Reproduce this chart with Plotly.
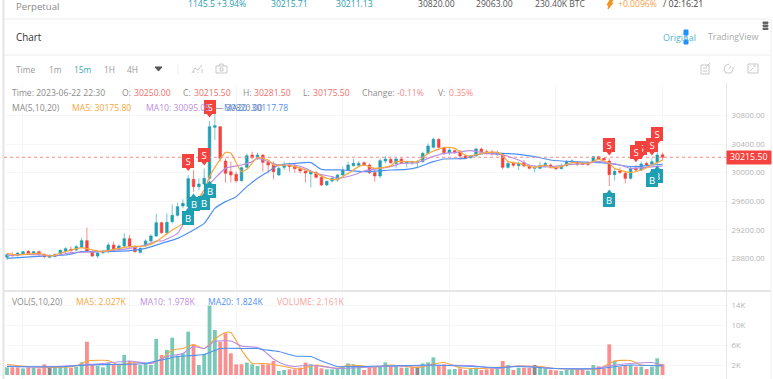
import plotly.graph_objects as go

W, H = 773, 379

opens = [28814,28852,28842,28866,28898,28870,28894,28856,28814,28824,
28861,28898,28926,28917,28954,29048,28889,28833,28880,28898,
28987,28926,28973,29076,28964,28884,28978,29043,29113,29300,
29160,29314,29402,29533,29524,29906,29804,29841,29920,30634,
30644,30163,30014,29976,29888,30074,30247,30210,30247,30144,
30107,29967,30074,30107,30093,30056,30023,29981,30000,29934,
29827,29883,29897,29967,30037,30098,30102,30140,30107,30000,
29953,30163,30186,30130,30191,30135,30140,30140,30154,30270,
30354,30466,30345,30280,30308,30289,30233,30210,30233,30331,
30294,30289,30252,30252,30074,30130,30098,30140,30093,30060,
30060,30098,30107,30074,30056,30098,30149,30144,30130,30130,
30154,30224,30200,30163,29972,30023,29990,29920,30060,30037,
30130,30121,30144,30250]
highs = [28870,28884,28884,28903,28917,28903,28912,28870,28852,28866,
28926,28959,28964,28987,29090,29230,28908,28894,28917,29020,
29034,28992,29150,29127,28987,28954,29066,29136,29421,29314,
29430,29556,29580,29626,29967,30037,29920,30060,30723,30820,
30653,30200,30154,30014,30084,30270,30294,30280,30256,30177,
30154,30107,30154,30140,30130,30084,30023,30037,30023,29967,
29888,29944,29981,30084,30154,30191,30163,30154,30130,30037,
30200,30233,30224,30214,30200,30168,30168,30177,30294,30410,
30494,30480,30364,30340,30326,30317,30247,30247,30350,30350,
30326,30317,30308,30270,30144,30154,30154,30177,30107,30107,
30154,30154,30130,30093,30130,30177,30186,30163,30144,30154,
30233,30233,30210,30200,30051,30074,30014,30084,30107,30154,
30154,30200,30294,30281.5]
lows = [28777,28824,28824,28852,28852,28861,28824,28800,28805,28819,
28852,28880,28880,28898,28940,28889,28819,28800,28861,28870,
28917,28898,28954,28940,28880,28870,28964,29029,29104,29141,
29127,29290,29384,29500,29514,29734,29757,29827,29897,30457,
30154,29860,29860,29860,29874,30060,30186,30177,30014,29990,
29906,29958,30037,30014,30000,29990,29860,29794,29920,29813,
29813,29860,29874,29953,30023,30084,30084,30093,29981,29874,
29920,30130,30121,30060,30121,30074,30107,30060,30140,30261,
30340,30340,30247,30247,30261,30177,30186,30196,30224,30270,
30247,30238,30233,30046,30056,30074,30037,30074,30046,30009,
30046,30074,30056,30037,30046,30084,30130,30093,30107,30093,
30140,30177,30168,29813,29888,29981,29850,29906,30014,30023,
30084,30107,30121,30175.5]
closes = [28852,28838,28875,28894,28870,28894,28856,28824,28838,28856,
28912,28936,28912,28964,29048,28903,28833,28875,28903,28987,
28931,28973,29076,28964,28894,28940,29043,29113,29300,29160,
29304,29402,29524,29570,29916,29804,29841,29920,30644,30658,
30200,29990,29967,29888,30070,30238,30210,30247,30144,30107,
30014,30060,30107,30084,30056,30023,29995,30009,29934,29827,
29878,29920,29967,30037,30107,30130,30130,30107,30000,29953,
30168,30191,30140,30191,30140,30154,30154,30154,30270,30373,
30466,30354,30280,30317,30280,30233,30200,30233,30331,30294,
30275,30261,30280,30074,30130,30102,30130,30093,30060,30074,
30098,30130,30074,30056,30093,30154,30163,30116,30116,30116,
30224,30191,30177,29972,30018,30004,29920,30060,30037,30121,
30107,30154,30247,30215.5]

volumes = [1530,1530,1530,1330,1530,1470,1330,2130,1470,1470,
1800,1600,1470,1600,2530,6670,2000,1800,1530,2470,
2000,2130,4000,2800,2330,2000,2330,2000,7200,4000,
5000,7470,3870,4330,8670,6130,2000,4200,13870,9000,
6670,8330,4330,2130,2130,2470,2130,1800,2130,2130,
2800,800,1000,1130,1130,1470,2470,2130,2000,1330,
1130,1130,1470,1800,2330,2130,2000,1000,1530,1530,
1670,2530,1800,1800,1470,1470,1670,1670,2330,2530,
3530,2000,2130,1130,1200,1330,1000,1200,1470,1000,
1130,1330,1330,2800,2000,1000,1470,1470,1470,2000,
1470,1330,1070,930,800,1070,1070,1070,1070,870,
2000,1730,1330,6130,2870,1600,2000,2000,1670,1670,
1200,1670,3330,2161]
volume_sides = ("trrtrtrrgt" "ttrttrrttt" "rttrrttttr" "tttttrtttt" "rrrrrtttrr"
                "rttrrrrtrr" "tttttttrrr" "ttrtrtrgtt" "trrttrrttr" "rrtrtrtrrg"
                "ttrrtttrrt" "trrrtrrtrt" "rttr")

ma5_i = [0,2,6,8,11,14,15,18,20,23,26,28,31,33,35,37,38,40,41,42,44,45,47,49,50,52,54,56,58,60,62,64,66,67,69,72,73,75,77,79,82,84,86,87,89,92,93,94,96,99,101,102,104,106,109,111,113,114,117,119,121,123]
ma5_v = [28870,28847,28870,28833,28894,28950,28936,28894,28926,28964,28973,29034,29197,29290,29547,29757,29944,30186,30284,30270,30014,30046,30210,30177,30107,30107,30084,30037,29990,29920,29906,29990,30084,30107,30060,30095,30154,30154,30154,30270,30350,30340,30247,30233,30270,30284,30247,30154,30130,30074,30107,30074,30084,30140,30130,30186,30130,30060,30004,30037,30107,30175.8]
ma10_i = [0,4,9,12,17,23,26,28,29,32,33,35,37,39,41,44,46,47,49,51,54,56,58,61,62,65,67,72,74,77,79,82,84,87,90,93,96,98,100,102,106,109,111,115,117,120,123]
ma10_v = [28838,28856,28838,28880,28894,28940,28987,29043,29043,29150,29267,29477,29757,29920,30060,30107,30154,30200,30154,30107,30107,30060,29990,29944,29920,29967,30023,30084,30130,30140,30200,30270,30280,30308,30270,30247,30177,30107,30084,30084,30116,30130,30154,30107,30060,30074,30095.05]
ma20_i = [0,5,11,14,17,23,26,29,32,35,37,39,41,43,45,47,49,51,54,57,59,63,67,72,75,77,80,82,86,88,90,93,96,99,102,106,110,113,116,118,121,123]
ma20_v = [28800,28824,28847,28894,28894,28908,28940,29010,29080,29197,29290,29500,29594,29664,29804,29920,30014,30107,30130,30140,30046,30037,30014,30037,30046,30074,30154,30191,30200,30247,30270,30270,30256,30224,30177,30154,30144,30130,30093,30084,30107,30117.78]

vma5_i = [0,4,9,13,15,19,21,24,27,29,31,33,35,37,39,41,42,44,46,48,50,52,55,58,62,64,69,72,77,80,82,85,89,93,96,100,103,109,111,113,114,117,119,121,123]
vma5_v = [2100,1700,1500,1800,2800,2900,2000,2500,2300,3200,5000,5300,6100,5300,7200,8500,8500,5000,2300,2300,2100,1700,1200,2000,1300,2000,1600,2000,1500,2200,2500,1500,1300,1600,1800,1700,1300,1200,1200,2300,2800,2900,2000,1900,2027]
vma10_i = [0,6,14,18,23,27,30,33,35,37,39,42,44,47,48,50,52,54,57,62,71,87,92,96,103,110,114,117,121,123]
vma10_v = [1800,1600,2000,2300,2800,2300,3700,4300,5700,5300,6700,6800,5800,5500,5000,3200,2100,1700,2000,1300,1700,1900,1300,1800,1300,1300,2000,2300,2500,1978]
vma20_i = [0,10,15,20,26,29,32,37,40,44,47,48,51,54,57,59,62,66,80,92,96,103,111,115,117,123]
vma20_v = [1700,1650,2000,2100,2300,3000,3700,4100,5300,5300,5300,5100,4700,3800,3700,2800,1700,1700,2000,1500,1700,1300,1300,1800,2000,1824]

sell_i = [34,37,38,113,119,118,121,122]
sell_p = [30170,30247,30919,30387,30341,30293,30387,30537]
buy_i = [34,35,37,38,113,122,121]
buy_p = [29365,29561,29575,29743,29617,29953,29897]

price_ticks = [30800,30400,30000,29600,29200,28800]
price_tick_text = ["30800.00","30400.00","30000.00","29600.00","29200.00","28800.00"]
vol_ticks = [14000,10000,6000,2000]
vol_tick_text = ["14K","10K","6K","2K"]
last_price = 30215.5
grid_candles = [3,23,43,63,83,103,123]

TEAL, RED = "#1f9fb2", "#f4423e"
TEAL_WICK, RED_WICK = "rgba(31,159,178,0.6)", "rgba(244,66,62,0.6)"
ORANGE, PURPLE, BLUE = "#f9a63a", "#b98ee2", "#4f90f6"
VOL_COL = {"t": "#79c8b8", "r": "#f98f8f", "g": "#8a8a8a"}
FONT = "Open Sans"
TXT = 8.6

idx = list(range(len(closes)))
fig = go.Figure()
fig.add_trace(go.Candlestick(x=idx, open=opens, high=highs, low=lows, close=closes,
    increasing=dict(line=dict(color=TEAL_WICK, width=1), fillcolor=TEAL),
    decreasing=dict(line=dict(color=RED_WICK, width=1), fillcolor=RED),
    whiskerwidth=0, hoverinfo="skip", xaxis="x", yaxis="y"))
for xs, ys, col in [(ma20_i, ma20_v, BLUE), (ma10_i, ma10_v, PURPLE), (ma5_i, ma5_v, ORANGE)]:
    fig.add_trace(go.Scatter(x=xs, y=ys, mode="lines", line=dict(color=col, width=1.2, shape="spline", smoothing=0.6),
                             hoverinfo="skip", xaxis="x", yaxis="y"))

tip = 105
flag_notes = []
for xs, ps, col, letter, sym, sign in [(sell_i, sell_p, RED, "S", "triangle-down", -1),
                                        (buy_i, buy_p, TEAL, "B", "triangle-up", 1)]:
    fig.add_trace(go.Scatter(x=xs, y=[p + sign * tip for p in ps], mode="markers",
        marker=dict(symbol=sym, size=6, color=col), cliponaxis=False, hoverinfo="skip", xaxis="x", yaxis="y"))
    for xi, p in zip(xs, ps):
        flag_notes.append(dict(xref="x", yref="y", x=xi, y=p, text=letter, showarrow=False, width=12, height=14,
                               bgcolor=col, borderpad=0, borderwidth=0, xanchor="center", yanchor="middle", align="center", valign="middle",
                               font=dict(family=FONT, size=9.5, color="#ffffff")))

fig.add_trace(go.Bar(x=idx, y=volumes, width=0.72, marker=dict(color=[VOL_COL[s] for s in volume_sides], line_width=0),
                     hoverinfo="skip", xaxis="x2", yaxis="y2"))
for xs, ys, col in [(vma5_i, vma5_v, ORANGE), (vma10_i, vma10_v, PURPLE), (vma20_i, vma20_v, BLUE)]:
    fig.add_trace(go.Scatter(x=xs, y=ys, mode="lines", line=dict(color=col, width=1.1, shape="spline", smoothing=0.5),
                             hoverinfo="skip", xaxis="x2", yaxis="y2"))


def px(x):
    return x / W


def py(y):
    return 1 - y / H


def label(x, y, text, size=TXT, color="#8c8c8c", anchor="left", **kw):
    return dict(xref="paper", yref="paper", x=px(x), y=py(y), text=text, showarrow=False, xanchor=anchor, yanchor="middle",
                font=dict(family=FONT, size=size, color=color), borderpad=0, borderwidth=0, **kw)


def hline(x0, x1, y, col="#ececec", w=1):
    return dict(type="line", xref="paper", yref="paper", x0=px(x0), x1=px(x1), y0=py(y), y1=py(y), line=dict(color=col, width=w), layer="below")


def vline(x, y0, y1, col="#e6e6e6", w=1):
    return dict(type="line", xref="paper", yref="paper", x0=px(x), x1=px(x), y0=py(y0), y1=py(y1), line=dict(color=col, width=w), layer="below")


def path(pts, col="#c8c8c8", fill=None, close=False, w=1):
    d = "M " + " L ".join(f"{px(a):.5f} {py(b):.5f}" for a, b in pts) + (" Z" if close else "")
    return dict(type="path", xref="paper", yref="paper", path=d, line=dict(color=col, width=w),
                fillcolor=fill or "rgba(0,0,0,0)")


def box(x0, y0, x1, y1, col="#c8c8c8", fill=None):
    return path([(x0, y0), (x1, y0), (x1, y1), (x0, y1)], col, fill, True)


shapes = [
    vline(3.5, 0, H, "#e4e4e4", 2), vline(771, 19, H, "#efefef"), hline(4, 771, 19), hline(4, 771, 55),
    vline(726.5, 83, H), hline(4, 771, 291, "#e6e6e6", 2), vline(178, 64, 75, "#eeeeee"),
    dict(type="line", xref="paper", yref="y", x0=px(4), x1=px(726), y0=last_price, y1=last_price,
         line=dict(color="#f78a88", width=1, dash="3px,3px")),
    box(727, 151, 771, 164, RED, RED),
    path([(155, 67), (162, 67), (158.5, 71)], "#555555", "#555555", True),
    path([(192, 73), (195, 68), (198, 70), (202, 65)]), path([(194, 73), (194, 71)]), path([(198, 73), (198, 72)]), path([(202, 73), (202, 69)]),
    box(216, 66, 227, 73), box(220, 68, 223, 71), path([(219, 66), (220, 64), (223, 64), (224, 66)]),
    box(701, 65, 709, 74), path([(703, 68), (707, 68)]), path([(703, 71), (707, 71)]), path([(706, 67), (710, 63)]),
    path([(729, 64), (725, 66), (724, 70), (726, 73), (731, 73), (733, 70), (733, 67)]), path([(729, 69), (731, 66)]),
    box(748, 64, 758, 73), path([(750, 71), (753, 68)]), path([(753, 66), (756, 66)]),
    box(684, 30, 688, 35, "#1e90ff", "#1e90ff"), box(684, 40, 688, 44, "#1e90ff", "#1e90ff"), vline(686, 35, 40, "#7fbfff"),
    box(763, 22, 768, 23.5, "#666666", "#666666"), box(763, 25, 768, 26.5, "#666666", "#666666"), box(763, 28, 768, 29.5, "#666666", "#666666"),
    path([(610, 0), (613, 0), (611, 3), (613, 3), (608, 9), (609, 5), (607, 5)], "#f5921e", "#f5921e", True),
]

annotations = flag_notes + [
    label(16, 6, "Perpetual", 9.6, "#8a8a8a"),
    label(188, 4, "1145.5 +3.94%", 8.6, "#2a9db0"), label(271, 4, "30215.71", 8.6, "#2a9db0"), label(336, 4, "30211.13", 8.6, "#2a9db0"),
    label(418, 4, "30820.00", 8.6, "#555555"), label(476, 4, "29063.00", 8.6, "#555555"), label(535, 4, "230.40K BTC", 8.6, "#555555"),
    label(618, 4, "+0.0096%", 8.6, "#f7a14a"), label(663, 4, "/ 02:16:21", 8.8, "#444444"),
    label(16, 37, "Chart", 9.9, "#333333"), label(663, 37, "Original", 9, "#58b3c9"), label(708, 37, "TradingView", 8.8, "#aaaaaa"),
    label(16, 69.5, "Time", 8.4, "#999999"), label(49, 69.5, "1m", 8.4, "#999999"), label(74, 69.5, "15m", 8.4, "#3aa6bd"),
    label(104, 69.5, "1H", 8.4, "#999999"), label(127, 69.5, "4H", 8.4, "#999999"),
    label(12, 93, "Time: 2023-06-22 22:30"),
    label(122, 93, "O:"), label(134, 93, "30250.00", color="#f26d6d"),
    label(183, 93, "C:"), label(194, 93, "30215.50", color="#f26d6d"),
    label(243, 93, "H:"), label(254, 93, "30281.50", color="#f26d6d"),
    label(303, 93, "L:"), label(313, 93, "30175.50", color="#f26d6d"),
    label(362, 93, "Change:"), label(397, 93, "-0.11%", color="#f58a8a"),
    label(438, 93, "V:"), label(449, 93, "0.35%", color="#f58a8a"),
    label(12, 108, "MA(5,10,20)"), label(72, 108, "MA5: 30175.80", color=ORANGE), label(146, 108, "MA10: 30095.05", color=PURPLE),
    label(215, 108, "— 30820.00", color="#8c8c8c"), label(224, 108, "MA20: 30117.78", color=BLUE),
    label(749, 157.5, "30215.50", 8.8, "#ffffff", "center"),
    label(12, 302, "VOL(5,10,20)"), label(76, 302, "MA5: 2.027K", color=ORANGE), label(140, 302, "MA10: 1.978K", color=PURPLE),
    label(208, 302, "MA20: 1.824K", color=BLUE), label(277, 302, "VOLUME: 2.161K", color="#f9a3a3"),
]

xrange = [-0.5625, 134.9]
xcommon = dict(range=xrange, domain=[px(4), px(726)], showticklabels=False, ticks="", tickmode="array", tickvals=grid_candles,
               showgrid=True, gridcolor="#f6f6f6", gridwidth=1, zeroline=False, showline=False, fixedrange=True, rangeslider=dict(visible=False))
ycommon = dict(side="right", showgrid=True, gridcolor="#f6f6f6", zeroline=False, showline=False, ticks="outside", ticklen=3,
               tickcolor="rgba(0,0,0,0)", tickfont=dict(family=FONT, size=7.8, color="#b4b4b4"), tickmode="array", fixedrange=True, automargin=False)

fig.update_layout(
    width=W, height=H, margin=dict(l=0, r=0, t=0, b=0), autosize=False, showlegend=False,
    paper_bgcolor="#ffffff", plot_bgcolor="#ffffff", font=dict(family=FONT), bargap=0.28,
    xaxis=dict(anchor="y", **xcommon), xaxis2=dict(anchor="y2", **xcommon),
    yaxis=dict(anchor="x", domain=[py(290), py(84)], range=[28357, 31241], tickvals=price_ticks, ticktext=price_tick_text, **ycommon),
    yaxis2=dict(anchor="x2", domain=[0, py(293)], range=[-800, 16400], tickvals=vol_ticks, ticktext=vol_tick_text, **ycommon),
    shapes=shapes, annotations=annotations,
)

fig.write_html("out.html", config={"displayModeBar": False, "staticPlot": True},
               post_script="document.body.style.margin='0';document.body.style.overflow='hidden';")
